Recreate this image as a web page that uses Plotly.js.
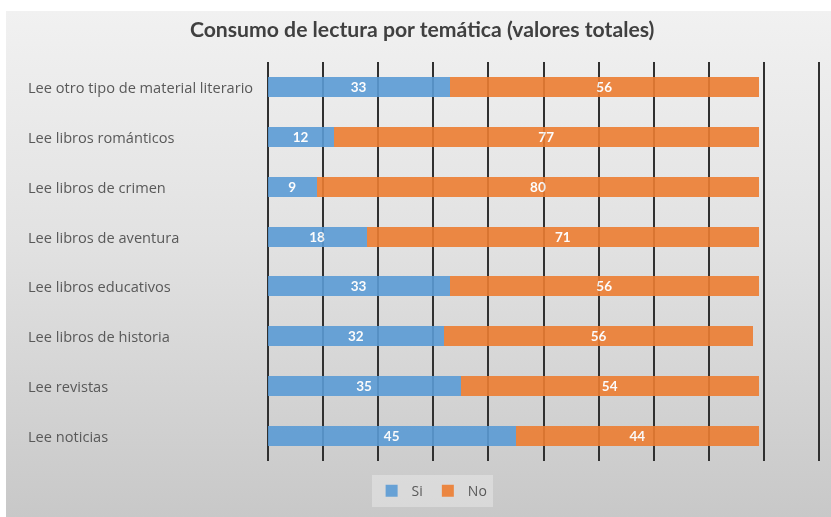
<!DOCTYPE html>
<html>
<head>
<meta charset="utf-8">
<script src="https://cdn.plot.ly/plotly-3.0.1.min.js"></script>
<style>
  html, body { margin: 0; padding: 0; background: #ffffff; }
  #chart {
    width: 831px; height: 517px;
    background-color: #ffffff;
    background-image: linear-gradient(180deg, #f1f1f1 0%, #e2e2e2 45%, #c8c8c8 100%);
    background-position: 6px 11px;
    background-size: 825px 506px;
    background-repeat: no-repeat;
  }
</style>
</head>
<body>
<div id="chart"></div>
<script>
const categories = [
  "Lee otro tipo de material literario",
  "Lee libros románticos",
  "Lee libros de crimen",
  "Lee libros de aventura",
  "Lee libros educativos",
  "Lee libros de historia",
  "Lee revistas",
  "Lee noticias"
];
const siValues = [33, 12, 9, 18, 33, 32, 35, 45];
const noValues = [56, 77, 80, 71, 56, 56, 54, 44];
const seriesNames = ["Si", "No"];
const chartTitle = "Consumo de lectura por temática (valores totales)";

const FONT = "Lato, sans-serif";
const LABEL_FONT = "'Open Sans', 'Noto Sans', sans-serif";

const traces = [
  {
    type: "bar", orientation: "h", name: seriesNames[0],
    y: categories, x: siValues,
    marker: { color: "#5b9bd5" }, opacity: 0.9,
    text: siValues.map(String), textposition: "inside", insidetextanchor: "middle",
    textangle: 0,
    textfont: { color: "#ffffff", size: 13.5, family: FONT, weight: "bold" },
    constraintext: "none", hoverinfo: "x+name"
  },
  {
    type: "bar", orientation: "h", name: seriesNames[1],
    y: categories, x: noValues,
    marker: { color: "#ed7d31" }, opacity: 0.9,
    text: noValues.map(String), textposition: "inside", insidetextanchor: "middle",
    textangle: 0,
    textfont: { color: "#ffffff", size: 13.5, family: FONT, weight: "bold" },
    constraintext: "none", hoverinfo: "x+name"
  }
];

// plot area: value 0 at x=267px, value 100 at x=820px; range padded by 1 unit each side
const annotations = categories.map(c => ({
  text: c, xref: "paper", yref: "y", x: (25 - 261.5) / 564, y: c,
  xanchor: "left", yanchor: "middle", showarrow: false,
  font: { family: LABEL_FONT, size: 14.6, color: "#595959" }
}));

const layout = {
  width: 831, height: 517,
  paper_bgcolor: "rgba(0,0,0,0)", plot_bgcolor: "rgba(0,0,0,0)",
  margin: { l: 261.5, r: 5.5, t: 62, b: 56 },
  barmode: "stack", bargap: 0.6,
  title: {
    text: chartTitle, x: 0.508, xanchor: "center", y: 0.942, yanchor: "middle",
    xref: "container", yref: "container",
    font: { family: FONT, size: 21.2, color: "#404040", weight: "bold" }
  },
  xaxis: {
    range: [-1, 101], tickvals: [0, 10, 20, 30, 40, 50, 60, 70, 80, 90, 100],
    showgrid: true, gridcolor: "#303030", gridwidth: 2,
    zeroline: false, showline: false, showticklabels: false, ticks: "",
    fixedrange: true
  },
  yaxis: {
    autorange: "reversed", showticklabels: false, showgrid: false,
    zeroline: false, showline: false, ticks: "", fixedrange: true
  },
  showlegend: true,
  legend: {
    orientation: "h", xref: "container", yref: "container",
    x: 0.52, xanchor: "center", y: 0.05, yanchor: "middle",
    bgcolor: "rgba(228,228,228,0.6)",
    font: { family: LABEL_FONT, size: 14, color: "#595959" },
    itemwidth: 30, traceorder: "normal"
  },
  annotations: annotations
};

Plotly.newPlot("chart", traces, layout, { displayModeBar: false, staticPlot: true });
</script>
</body>
</html>
